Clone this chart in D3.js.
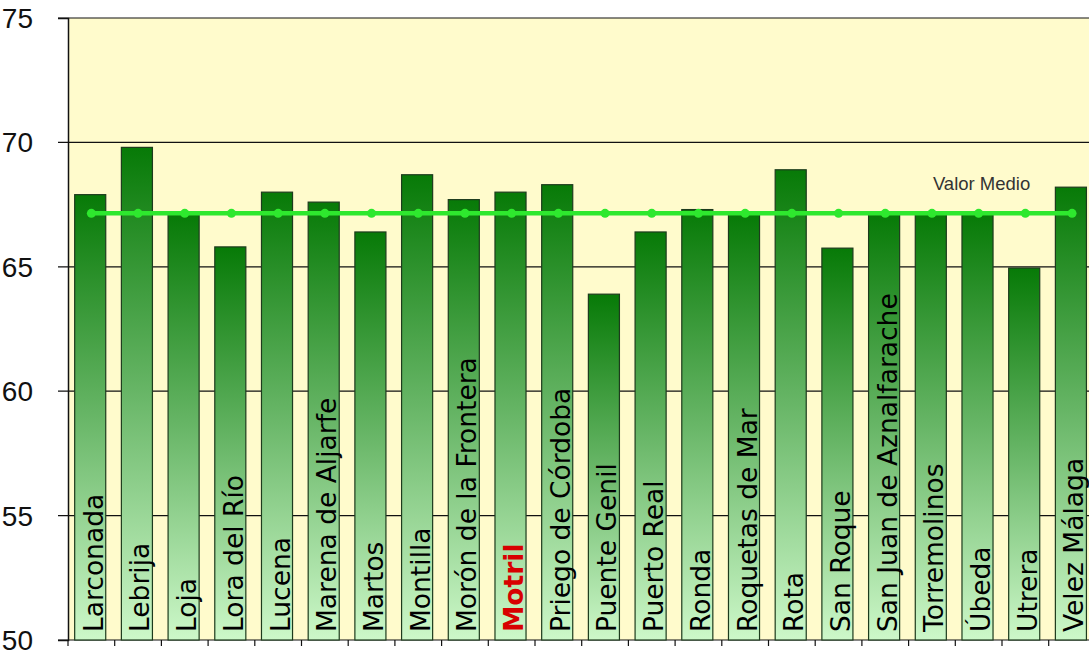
<!DOCTYPE html>
<html>
<head>
<meta charset="utf-8">
<script src="https://cdn.jsdelivr.net/npm/d3@7"></script>
<style>
  body { margin: 0; background: #fff; }
  svg { display: block; }
</style>
</head>
<body>
<div id="chart"></div>
<script>
// datos
var municipios = ['Larconada', 'Lebrija', 'Loja', 'Lora del Río', 'Lucena', 'Marena de Aljarfe',
  'Martos', 'Montilla', 'Morón de la Frontera', 'Motril', 'Priego de Córdoba', 'Puente Genil',
  'Puerto Real', 'Ronda', 'Roquetas de Mar', 'Rota', 'San Roque', 'San Juan de Aznalfarache',
  'Torremolinos', 'Úbeda', 'Utrera', 'Velez Málaga'];
var valores = [67.9, 69.8, 67.1, 65.8, 68.0, 67.6, 66.4, 68.7, 67.7, 68.0, 68.3, 63.9,
  66.4, 67.3, 67.1, 68.9, 65.75, 67.1, 67.1, 67.1, 64.95, 68.2];
var valorMedio = 67.15;
var destacado = 'Motril';
var yTicks = [50, 55, 60, 65, 70, 75];

var svgWidth = 1089;
var svgHeight = 652;
var margin = {top: 18, left: 68, bottom: 12};

var svg = d3.select('#chart')
  .append('svg')
  .attr('width', svgWidth)
  .attr('height', svgHeight);

// escalas
var x = d3.scaleBand()
  .domain(municipios)
  .range([margin.left, margin.left + 22 * 46.7])
  .padding(0);
var y = d3.scaleLinear()
  .domain([50, 75])
  .range([svgHeight - margin.bottom, margin.top]);

// degradado de las barras
var defs = svg.append('defs');
var grad = defs.append('linearGradient')
  .attr('id', 'barGrad')
  .attr('x1', 0).attr('y1', 0)
  .attr('x2', 0).attr('y2', 1);
grad.append('stop').attr('offset', '0%').attr('stop-color', '#077a07');
grad.append('stop').attr('offset', '50%').attr('stop-color', '#68b667');
grad.append('stop').attr('offset', '100%').attr('stop-color', '#cdf8c9');

// fondo del area de trazado
svg.append('rect')
  .attr('x', margin.left)
  .attr('y', y(75))
  .attr('width', svgWidth - margin.left)
  .attr('height', y(50) - y(75))
  .style('fill', '#fffbcc');

// lineas de division
svg.append('g')
  .selectAll('line')
  .data(yTicks)
  .enter()
  .append('line')
  .attr('x1', margin.left - 10)
  .attr('x2', svgWidth)
  .attr('y1', d => y(d))
  .attr('y2', d => y(d))
  .style('stroke', '#111')
  .style('stroke-width', 1.2);

// eje y
var yAxis = svg.append('g')
  .attr('transform', 'translate(' + margin.left + ',0)')
  .call(d3.axisLeft(y).tickValues(yTicks).tickSize(10).tickPadding(25));
yAxis.select('.domain').style('stroke', '#111').style('stroke-width', 1.5);
yAxis.selectAll('.tick line').remove();
yAxis.selectAll('text')
  .attr('dy', '0.34em')
  .style('font-family', '"Liberation Sans", Arial, sans-serif')
  .style('font-size', '28px')
  .style('fill', '#111');

// eje x (solo marcas entre categorias)
var bounds = municipios.map(d => x(d)).concat([x.range()[1]]);
svg.append('g')
  .selectAll('line')
  .data(bounds)
  .enter()
  .append('line')
  .attr('x1', d => d).attr('x2', d => d)
  .attr('y1', y(50)).attr('y2', y(50) + 6)
  .style('stroke', '#111')
  .style('stroke-width', 1.2);

// barras
var bw = x.bandwidth();
svg.append('g')
  .selectAll('rect')
  .data(valores)
  .enter()
  .append('rect')
  .attr('x', (d, i) => x(municipios[i]) + bw * 0.143)
  .attr('y', d => y(d))
  .attr('width', bw * 0.665)
  .attr('height', d => y(50) - y(d))
  .style('fill', 'url(#barGrad)')
  .style('stroke', '#1d3b1d')
  .style('stroke-width', 1.2);

// nombres dentro de las barras
svg.append('g')
  .selectAll('text')
  .data(municipios)
  .enter()
  .append('text')
  .attr('transform', d => 'translate(' + (x(d) + bw * 0.745) + ',' + (y(50) - 8) + ') rotate(-90)')
  .text(d => d)
  .style('font-family', '"DejaVu Sans", Verdana, sans-serif')
  .style('font-size', '26.5px')
  .style('font-weight', d => d === destacado ? 'bold' : 'normal')
  .style('fill', d => d === destacado ? '#d80000' : '#000');

// linea del valor medio
var linea = d3.line()
  .x(d => x(d) + bw / 2)
  .y(() => y(valorMedio));
svg.append('path')
  .datum(municipios)
  .attr('d', linea)
  .style('fill', 'none')
  .style('stroke', '#2ee82e')
  .style('stroke-width', 4.5);
svg.append('g')
  .selectAll('circle')
  .data(municipios)
  .enter()
  .append('circle')
  .attr('cx', d => x(d) + bw / 2)
  .attr('cy', y(valorMedio))
  .attr('r', 4.5)
  .style('fill', '#2ee82e');

svg.append('text')
  .attr('x', x(municipios[18]) + bw * 0.52)
  .attr('y', y(valorMedio) - 23)
  .text('Valor Medio')
  .style('font-family', '"Liberation Sans", Arial, sans-serif')
  .style('font-size', '18.5px')
  .style('fill', '#333');
</script>
</body>
</html>
